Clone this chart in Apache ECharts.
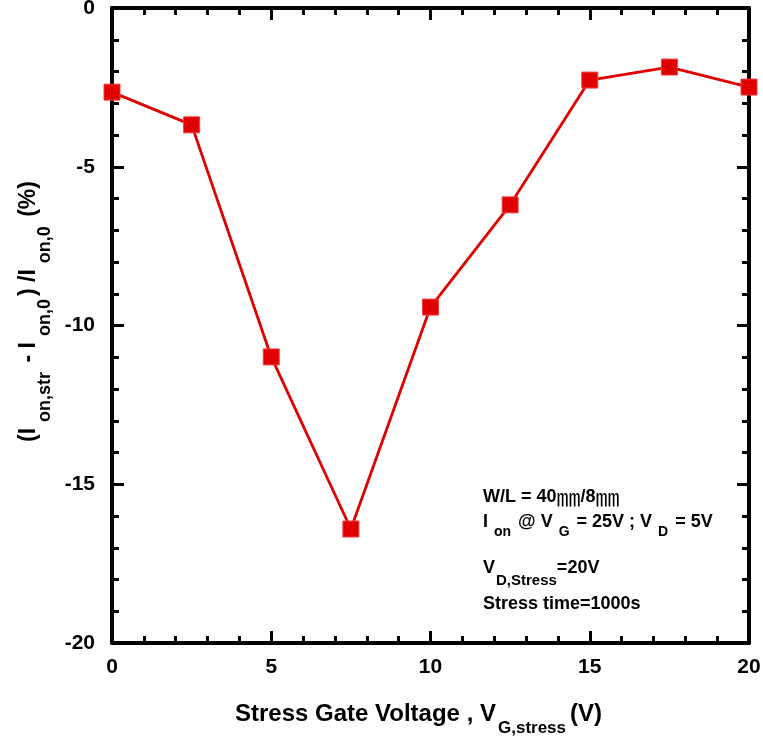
<!DOCTYPE html>
<html>
<head>
<meta charset="utf-8">
<script src="https://cdn.jsdelivr.net/npm/echarts@6/dist/echarts.min.js"></script>
<style>
  html, body { margin: 0; padding: 0; background: #fff; }
  #chart { width: 763px; height: 740px; }
</style>
</head>
<body>
<div id="chart"></div>
<script>
// stress gate voltage (V) and on-current change (%)
var vgStress = [0, 2.5, 5, 7.5, 10, 12.5, 15, 17.5, 20]
var ionChange = [-2.65, -3.68, -10.99, -16.41, -9.42, -6.20, -2.27, -1.86, -2.49]

var xTicks = [0, 5, 10, 15, 20]
var yTicks = [0, -5, -10, -15, -20]

var pts = []
for (var i = 0; i < vgStress.length; i++) {
  pts.push([vgStress[i], ionChange[i]])
}

var font = 'Liberation Sans, Arial, sans-serif'
var red = '#e00000'

var axisCommon = {
  axisLine: { show: true, onZero: false, lineStyle: { color: '#000', width: 4 } },
  axisTick: { show: true, inside: true, length: 12, lineStyle: { color: '#000', width: 3 } },
  minorTick: { show: true, splitNumber: 5, length: 7, lineStyle: { color: '#000', width: 3 } },
  splitLine: { show: false }
}

// axis titles with subscripts
var subX = {
  n: { fontSize: 24, fontWeight: 'bold', fontFamily: font, color: '#000', lineHeight: 26, verticalAlign: 'top' },
  s: { fontSize: 17, fontWeight: 'bold', fontFamily: font, color: '#000', lineHeight: 18, padding: [18, 4, 0, 2], verticalAlign: 'top' }
}
var subY = {
  n: { fontSize: 23, fontWeight: 'bold', fontFamily: font, color: '#000', lineHeight: 26, verticalAlign: 'top' },
  s: { fontSize: 18, fontWeight: 'bold', fontFamily: font, color: '#000', lineHeight: 18, padding: [19, 3, 0, 6], verticalAlign: 'top' }
}

var chart = echarts.init(document.getElementById('chart'))
chart.setOption({
  animation: false,
  backgroundColor: '#fff',
  grid: { left: 112, right: 14, top: 8, bottom: 97, outerBoundsMode: 'none' },
  xAxis: [
    Object.assign({
      type: 'value', min: 0, max: 20, interval: 5, position: 'bottom',
      name: '{n|Stress Gate Voltage , V}{s|G,stress}{n|(V)}',
      nameLocation: 'middle', nameGap: 59,
      nameTextStyle: { rich: subX, padding: [0, 24, 0, 0] },
      axisLabel: {
        margin: 14, fontSize: 21, fontWeight: 'bold', fontFamily: font, color: '#000',
        formatter: function (v) { return xTicks.indexOf(v) >= 0 ? String(v) : '' }
      }
    }, axisCommon),
    Object.assign({
      type: 'value', min: 0, max: 20, interval: 5, position: 'top',
      axisLabel: { show: false }
    }, axisCommon)
  ],
  yAxis: [
    Object.assign({
      type: 'value', min: -20, max: 0, interval: 5, position: 'left',
      name: '{n|(I}{s|on,str}{n| - I}{s|on,0}{n|) /I}{s|on,0}{n| (%)}',
      nameLocation: 'middle', nameGap: 62, nameRotate: 90,
      nameTextStyle: { rich: subY, padding: [0, 0, 0, 28] },
      axisLabel: {
        margin: 17, fontSize: 21, fontWeight: 'bold', fontFamily: font, color: '#000',
        formatter: function (v) { return yTicks.indexOf(v) >= 0 ? String(v) : '' }
      }
    }, axisCommon),
    Object.assign({
      type: 'value', min: -20, max: 0, interval: 5, position: 'right',
      axisLabel: { show: false }
    }, axisCommon)
  ],
  series: [{
    type: 'line',
    data: pts,
    symbol: 'rect',
    symbolSize: 16,
    lineStyle: { color: red, width: 2.8 },
    itemStyle: { color: red, borderColor: '#f04040', borderWidth: 1 },
    z: 5
  }],
  graphic: [
    {
      type: 'text', left: 483, top: 485,
      style: {
        text: '{n|W/L = 40}{m|㎜}{n|/8}{m|㎜}',
        rich: {
          n: { fontSize: 18, fontWeight: 'bold', fontFamily: font, fill: '#000', lineHeight: 24, verticalAlign: 'middle' },
          m: { fontSize: 24, fontFamily: 'Noto Sans CJK SC, serif', fill: '#000', lineHeight: 24, verticalAlign: 'middle' }
        }
      }
    },
    {
      type: 'text', left: 483, top: 513,
      style: {
        text: '{n|I}{s|on}{n| @ V}{s|G}{n| = 25V ; V}{s|D}{n| = 5V}',
        rich: {
          n: { fontSize: 18, fontWeight: 'bold', fontFamily: font, fill: '#000', lineHeight: 20, verticalAlign: 'top' },
          s: { fontSize: 14, fontWeight: 'bold', fontFamily: font, fill: '#000', lineHeight: 14, padding: [12, 2, 0, 6], verticalAlign: 'top' }
        }
      }
    },
    {
      type: 'text', left: 483, top: 559,
      style: {
        text: '{n|V}{s|D,Stress}{n|=20V}',
        rich: {
          n: { fontSize: 18, fontWeight: 'bold', fontFamily: font, fill: '#000', lineHeight: 20, verticalAlign: 'top' },
          s: { fontSize: 15, fontWeight: 'bold', fontFamily: font, fill: '#000', lineHeight: 14, padding: [14, 0, 0, 1], verticalAlign: 'top' }
        }
      }
    },
    {
      type: 'text', left: 483, top: 595,
      style: { text: 'Stress time=1000s', fontSize: 18, fontWeight: 'bold', fontFamily: font, fill: '#000' }
    }
  ]
})
</script>
</body>
</html>
